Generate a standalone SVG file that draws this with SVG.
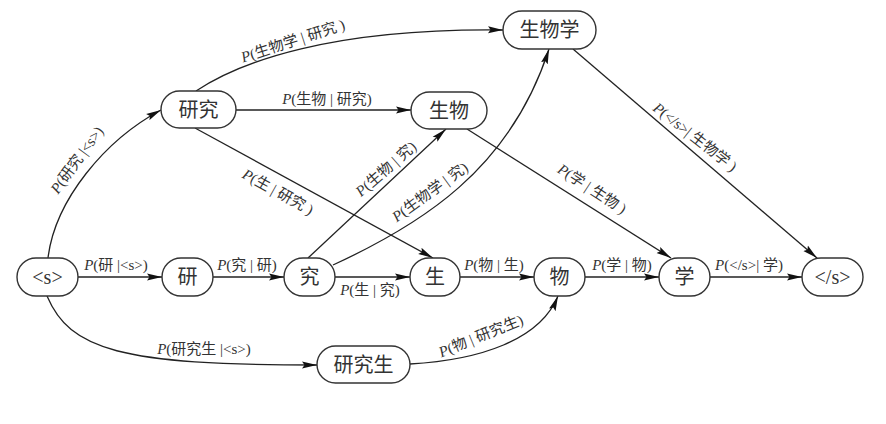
<svg xmlns="http://www.w3.org/2000/svg" width="886" height="424" viewBox="0 0 886 424">
<style>
.node rect{fill:#fff;stroke:#333;stroke-width:1.4}
.node text{font-family:"Liberation Serif","Noto Sans CJK SC",serif;font-size:20px;fill:#333;text-anchor:middle}
.edges path,.edges line{fill:none;stroke:#222;stroke-width:1.3;marker-end:url(#arr)}
.lbl{font-family:"Liberation Serif","Noto Sans CJK SC",serif;font-size:15px;fill:#333;text-anchor:middle}
.i{font-style:italic}
</style>
<defs>
<marker id="arr" viewBox="0 0 15 8" refX="15" refY="4" markerWidth="15" markerHeight="8" markerUnits="userSpaceOnUse" orient="auto">
<path d="M0,0.5 L15,4 L0,7.5 L2.5,4 z" fill="#111"/>
</marker>
</defs>
<rect width="886" height="424" fill="#fff"/>
<g class="edges">
<line x1="78" y1="277" x2="162" y2="277"/>
<line x1="213" y1="277" x2="284" y2="277"/>
<line x1="335" y1="277" x2="410" y2="277"/>
<line x1="460" y1="277" x2="534" y2="277"/>
<line x1="585" y1="277" x2="659" y2="277"/>
<line x1="710" y1="277" x2="802" y2="277"/>
<line x1="236" y1="110" x2="411" y2="110"/>
<line x1="195" y1="128" x2="433" y2="258"/>
<line x1="308" y1="258" x2="446" y2="129"/>
<line x1="467" y1="129" x2="671" y2="258"/>
<line x1="573" y1="49" x2="817" y2="258"/>
<path d="M48,258 C55,200 105,140 161,110"/>
<path d="M196,91 C240,62 330,28 503,30"/>
<path d="M333,265 C420,225 510,170 549,49"/>
<path d="M47,296 C70,350 120,365 317,365"/>
<path d="M410,364 C480,360 540,340 558,296"/>
</g>
<g id="labels">
<text class="lbl" x="116" y="270"><tspan class="i">P</tspan>(研 |&lt;s&gt;)</text>
<text class="lbl" x="247" y="270"><tspan class="i">P</tspan>(究 | 研)</text>
<text class="lbl" x="370" y="295"><tspan class="i">P</tspan>(生 | 究)</text>
<text class="lbl" x="494" y="270"><tspan class="i">P</tspan>(物 | 生)</text>
<text class="lbl" x="622" y="270"><tspan class="i">P</tspan>(学 | 物)</text>
<text class="lbl" x="749" y="270"><tspan class="i">P</tspan>(&lt;/s&gt;| 学)</text>
<text class="lbl" x="327" y="104"><tspan class="i">P</tspan>(生物 | 研究)</text>
<text class="lbl" x="204" y="354"><tspan class="i">P</tspan>(研究生 |&lt;s&gt;)</text>
<text class="lbl" transform="translate(278,192) rotate(29)" y="5"><tspan class="i">P</tspan>(生 | 研究 )</text>
<text class="lbl" transform="translate(386,169) rotate(-41)" y="5"><tspan class="i">P</tspan>(生物 | 究)</text>
<text class="lbl" transform="translate(430,192) rotate(-36)" y="5"><tspan class="i">P</tspan>(生物学 | 究)</text>
<text class="lbl" transform="translate(77,160) rotate(-54)" y="5"><tspan class="i">P</tspan>(研究 |&lt;s&gt;)</text>
<text class="lbl" transform="translate(481,336) rotate(-22)" y="5"><tspan class="i">P</tspan>(物 | 研究生)</text>
<text class="lbl" transform="translate(695,137) rotate(38)" y="5"><tspan class="i">P</tspan>(&lt;/s&gt;| 生物学 )</text>
<text class="lbl" transform="translate(592,189) rotate(33)" y="5"><tspan class="i">P</tspan>(学 | 生物 )</text>
<text class="lbl" transform="translate(293,41) rotate(-18)" y="5"><tspan class="i">P</tspan>(生物学 | 研究 )</text>
</g>
<g id="n_s" class="node"><rect x="17" y="258" width="61" height="38" rx="19"/><text x="47.5" y="284">&lt;s&gt;</text></g>
<g id="n_yan" class="node"><rect x="162" y="258" width="51" height="38" rx="19"/><text x="187.5" y="284">研</text></g>
<g id="n_jiu" class="node"><rect x="284" y="258" width="51" height="38" rx="19"/><text x="309.5" y="284">究</text></g>
<g id="n_sheng" class="node"><rect x="410" y="258" width="50" height="38" rx="19"/><text x="435" y="284">生</text></g>
<g id="n_wu" class="node"><rect x="534" y="258" width="51" height="38" rx="19"/><text x="559.5" y="284">物</text></g>
<g id="n_xue" class="node"><rect x="659" y="258" width="51" height="38" rx="19"/><text x="684.5" y="284">学</text></g>
<g id="n_end" class="node"><rect x="802" y="258" width="61" height="38" rx="19"/><text x="832.5" y="284">&lt;/s&gt;</text></g>
<g id="n_yanjiu" class="node"><rect x="161" y="91" width="75" height="37" rx="18.5"/><text x="198.5" y="117">研究</text></g>
<g id="n_shengwu" class="node"><rect x="411" y="92" width="76" height="37" rx="18.5"/><text x="449" y="118">生物</text></g>
<g id="n_shengwuxue" class="node"><rect x="503" y="11" width="93" height="38" rx="19"/><text x="549.5" y="37">生物学</text></g>
<g id="n_yanjiusheng" class="node"><rect x="317" y="346" width="93" height="37" rx="18.5"/><text x="363.5" y="372">研究生</text></g>
</svg>
